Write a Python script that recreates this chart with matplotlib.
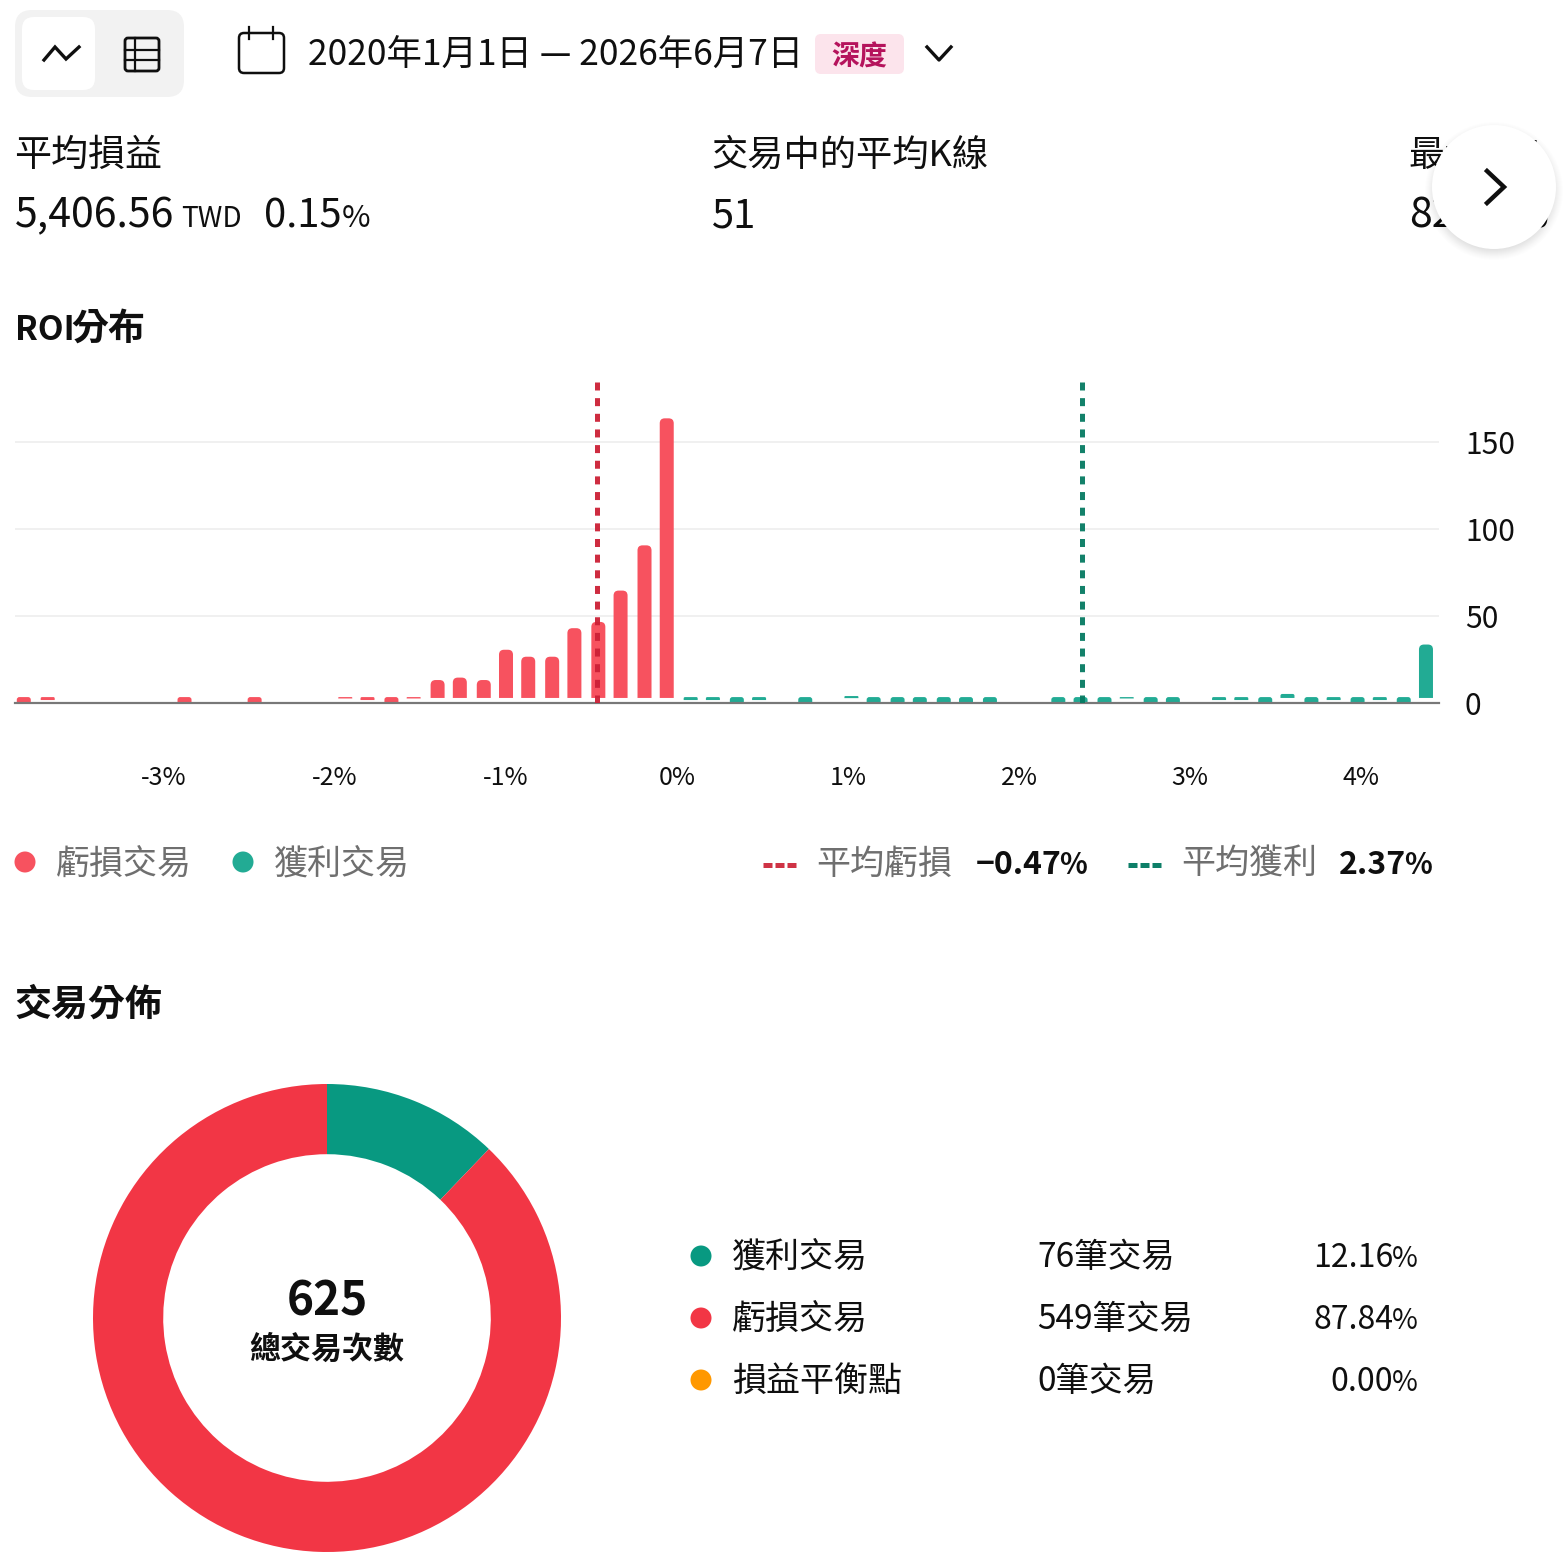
import matplotlib
matplotlib.use('Agg')
import matplotlib.pyplot as plt
from matplotlib.patches import Circle, FancyBboxPatch, PathPatch
from matplotlib.path import Path

plt.rcParams['font.family'] = ['Noto Sans CJK TC', 'DejaVu Sans']

W, H = 1564, 1556

# ROI histogram: bin centre (%), bar top (trades), bar foot (trades)
loss_roi = [-3.82, -3.68, -2.88, -2.47, -1.94, -1.81, -1.67, -1.54, -1.40, -1.27,
            -1.13, -1.00, -0.87, -0.73, -0.60, -0.46, -0.33, -0.19, -0.06]
loss_top = [3.4, 3.4, 3.4, 3.4, 3.4, 3.4, 3.4, 3.4, 13.2, 14.6, 13.2, 30.6, 26.6, 26.6,
            43, 46.6, 64.6, 90.6, 163.6]
loss_foot = [0, 1.7, 0, 0, 2.6, 1.7, 0, 2.6, 2.9, 2.9, 2.9, 2.9, 2.9, 2.9,
             2.9, 2.9, 2.9, 2.9, 2.9]

win_roi = [0.08, 0.21, 0.35, 0.48, 0.75, 1.02, 1.15, 1.29, 1.42, 1.56, 1.69, 1.83,
           2.23, 2.36, 2.50, 2.63, 2.77, 2.90, 3.17, 3.30, 3.44, 3.57, 3.71, 3.84,
           3.98, 4.11, 4.25, 4.38]
win_top = [3.4, 3.4, 3.4, 3.4, 3.4, 4.0, 3.4, 3.4, 3.4, 3.4, 3.4, 3.4,
           3.4, 3.4, 3.4, 3.4, 3.4, 3.4, 3.4, 3.4, 3.4, 5.2, 3.4, 3.4,
           3.4, 3.4, 3.4, 33.6]
win_foot = [1.7, 1.7, 0, 1.7, 0, 2.8, 0, 0, 0, 0, 0, 0,
            0, 0, 0, 2.6, 0, 0, 1.7, 1.7, 0, 2.9, 0, 1.7,
            0, 1.7, 0, 2.9]

avg_loss = -0.47
avg_win = 2.37

x_ticks = [-3, -2, -1, 0, 1, 2, 3, 4]
x_labels = ['-3%', '-2%', '-1%', '0%', '1%', '2%', '3%', '4%']
y_ticks = [0, 50, 100, 150]

# trade split
split_names = ['獲利交易', '虧損交易', '損益平衡點']
split_counts = [76, 549, 0]
split_pcts = ['12.16', '87.84', '0.00']
total_trades = 625

INK = '#0f0f0f'
GREY = '#6f6f6f'
BAR_RED = '#f7525f'
BAR_GREEN = '#22ab94'
LINE_RED = '#cc2036'
LINE_GREEN = '#067a62'
RED = '#f23645'
GREEN = '#089981'
ORANGE = '#ff9800'


def px(size):
    # css pixels to points at dpi 100
    return size * 0.72


fig = plt.figure(figsize=(W / 100, H / 100), dpi=100, facecolor='white')

# page layer in pixel coordinates, y going down
page = fig.add_axes([0, 0, 1, 1], zorder=1)
page.set_xlim(0, W)
page.set_ylim(H, 0)
page.axis('off')


def label(x, y, s, size, color=INK, weight='normal', ha='left', zorder=3):
    page.text(x, y, s, fontsize=px(size), color=color, fontweight=weight, ha=ha,
              va='baseline', zorder=zorder)


def pct_label(right, y, digits, size, sign_size, weight='normal'):
    # the percent sign is set smaller than the digits
    label(right, y, '%', sign_size, weight=weight, ha='right')
    label(right - 0.89 * sign_size, y, digits, size, weight=weight, ha='right')


def rounded(x0, y0, x1, y1, r, **kw):
    page.add_patch(FancyBboxPatch((x0 + r, y0 + r), x1 - x0 - 2 * r, y1 - y0 - 2 * r,
                                  boxstyle='round,pad=%f,rounding_size=%f' % (r, r),
                                  linewidth=kw.pop('lw', 0), **kw))


# view switch
rounded(15, 10, 184, 97, 17, facecolor='#f2f2f2')
rounded(22, 17, 95, 90, 12, facecolor='white')
page.plot([44, 55, 66, 79], [60, 47, 59, 47], color=INK, lw=2.4, solid_joinstyle='miter')
rounded(125, 38, 159, 71, 3, facecolor='none', edgecolor=INK, lw=2)
page.plot([125, 159], [50, 50], color=INK, lw=1.6)
page.plot([125, 159], [60, 60], color=INK, lw=1.6)
page.plot([135, 135], [38, 71], color=INK, lw=1.6)

# calendar icon and date range
rounded(239, 33, 284, 73, 5, facecolor='none', edgecolor=INK, lw=1.8)
page.plot([249, 249], [27, 39], color=INK, lw=1.6)
page.plot([273, 273], [27, 39], color=INK, lw=1.6)
label(308, 66, '2020年1月1日 — 2026年6月7日', 35.4)
rounded(815, 34, 904, 74, 6, facecolor='#fce4ec')
label(859, 66, '深度', 28, color='#b5135c', weight='bold', ha='center')
page.plot([927, 939, 951], [47, 60, 47], color=INK, lw=2.4)

# summary row
label(14, 166, '平均損益', 37)
label(15, 227, '5,406.56', 41)
label(181, 227, 'TWD', 28)
label(264, 227, '0.15', 40)
label(342, 227, '%', 31)
label(711, 166, '交易中的平均K線', 36.3)
label(712, 227, '51', 40)
label(1408, 166, '最大ROI', 36)
label(1409, 227, '82.15%', 41)

# round scroll button with a soft shadow
for i in range(14):
    page.add_patch(Circle((1494, 191), 69 - i, facecolor='black', alpha=0.008 + i * 0.0005,
                          linewidth=0, zorder=4))
page.add_patch(Circle((1494, 187), 62, facecolor='white', linewidth=0, zorder=5))
page.plot([1487, 1504, 1487], [171, 187, 203], color=INK, lw=3.2, zorder=6,
          solid_joinstyle='miter')

label(15, 340, 'ROI', 33.5, weight='bold')
label(71, 340, '分布', 37, weight='bold')
label(14, 1016, '交易分佈', 37, weight='bold')

# ROI legend
for cx, col in [(25, BAR_RED), (243, BAR_GREEN)]:
    page.add_patch(Circle((cx, 862), 10.5, facecolor=col, linewidth=0))
label(56, 874, '虧損交易', 34, color=GREY)
label(274, 874, '獲利交易', 34, color=GREY)
page.plot([763, 796], [864.5, 864.5], color='#cf3345', lw=px(5),
          linestyle=(0, (1.8, 0.6)), dash_capstyle='butt')
label(816, 874, '平均虧損', 34, color=GREY)
pct_label(1087, 874, '−%.2f' % abs(avg_loss), 32, 29, weight='bold')
page.plot([1128, 1161], [864.5, 864.5], color='#0e7f68', lw=px(5),
          linestyle=(0, (1.8, 0.6)), dash_capstyle='butt')
label(1181, 874, '平均獲利', 34, color=GREY)
pct_label(1432, 874, '%.2f' % avg_win, 32, 29, weight='bold')

# split legend
for i in range(3):
    y = 1256 + i * 62
    col = [GREEN, RED, ORANGE][i]
    page.add_patch(Circle((701, y), 10.5, facecolor=col, linewidth=0))
    label(732, y + 11, split_names[i], 34)
    label(1037, y + 11, '%d筆交易' % split_counts[i], 33.5)
    pct_label(1418, y + 11, split_pcts[i], 32, 28)

# histogram axes
ax_left, ax_right, ax_top, ax_bottom = 15, 1439, 382, 703
ax = fig.add_axes([ax_left / W, 1 - ax_bottom / H, (ax_right - ax_left) / W,
                   (ax_bottom - ax_top) / H], zorder=2)
ax.patch.set_alpha(0)
ax.set_xlim((ax_left - 677) / 171, (ax_right - 677) / 171)
ax.set_ylim(0, (ax_bottom - ax_top) / 1.74)
for side in ['top', 'left', 'right']:
    ax.spines[side].set_visible(False)
ax.spines['bottom'].set_color('#787878')
ax.spines['bottom'].set_linewidth(px(2.2))
ax.yaxis.tick_right()
ax.set_xticks(x_ticks)
ax.set_xticklabels(x_labels, fontsize=px(25), color=INK)
ax.set_yticks(y_ticks)
ax.set_yticklabels([str(v) for v in y_ticks], fontsize=px(30), color=INK, ha='left')
ax.tick_params(axis='x', length=0, pad=px(62))
ax.tick_params(axis='y', length=0, pad=px(26))
ax.grid(axis='y', color='#f0f0f0', linewidth=px(2))
ax.set_axisbelow(True)


def rounded_bar(x, top, foot, color):
    # bar with rounded top corners; 14px wide, corners up to 5px
    half = 7 / 171
    ry = min(5 / 1.74, (top - foot) * 0.45)
    rx = ry * 1.74 / 171
    verts = [(x - half, foot), (x - half, top - ry), (x - half, top), (x - half + rx, top),
             (x + half - rx, top), (x + half, top), (x + half, top - ry), (x + half, foot),
             (x - half, foot)]
    codes = [Path.MOVETO, Path.LINETO, Path.CURVE3, Path.CURVE3, Path.LINETO, Path.CURVE3,
             Path.CURVE3, Path.LINETO, Path.CLOSEPOLY]
    ax.add_patch(PathPatch(Path(verts, codes), facecolor=color, linewidth=0, zorder=2,
                           clip_on=False))


for x, top, foot in zip(loss_roi, loss_top, loss_foot):
    rounded_bar(x, top, foot, BAR_RED)
for x, top, foot in zip(win_roi, win_top, win_foot):
    rounded_bar(x, top, foot, BAR_GREEN)

ax.axvline(avg_loss, color=LINE_RED, lw=px(5), linestyle=(0, (1.6, 1.53)),
           dash_capstyle='butt', zorder=3, alpha=0.95)
ax.axvline(avg_win, color=LINE_GREEN, lw=px(5), linestyle=(0, (1.6, 1.53)),
           dash_capstyle='butt', zorder=3, alpha=0.95)

# donut
donut = fig.add_axes([93 / W, 1 - 1552 / H, 468 / W, 468 / H], zorder=2)
donut.pie(split_counts, colors=[GREEN, RED, ORANGE], startangle=90, counterclock=False,
          radius=1, wedgeprops={'width': 0.3, 'linewidth': 0})
donut.set_xlim(-1, 1)
donut.set_ylim(-1, 1)

label(327, 1315, str(total_trades), 46, weight='bold', ha='center')
label(327, 1359, '總交易次數', 31, weight='bold', ha='center')

fig.savefig('out.png', dpi=100)
